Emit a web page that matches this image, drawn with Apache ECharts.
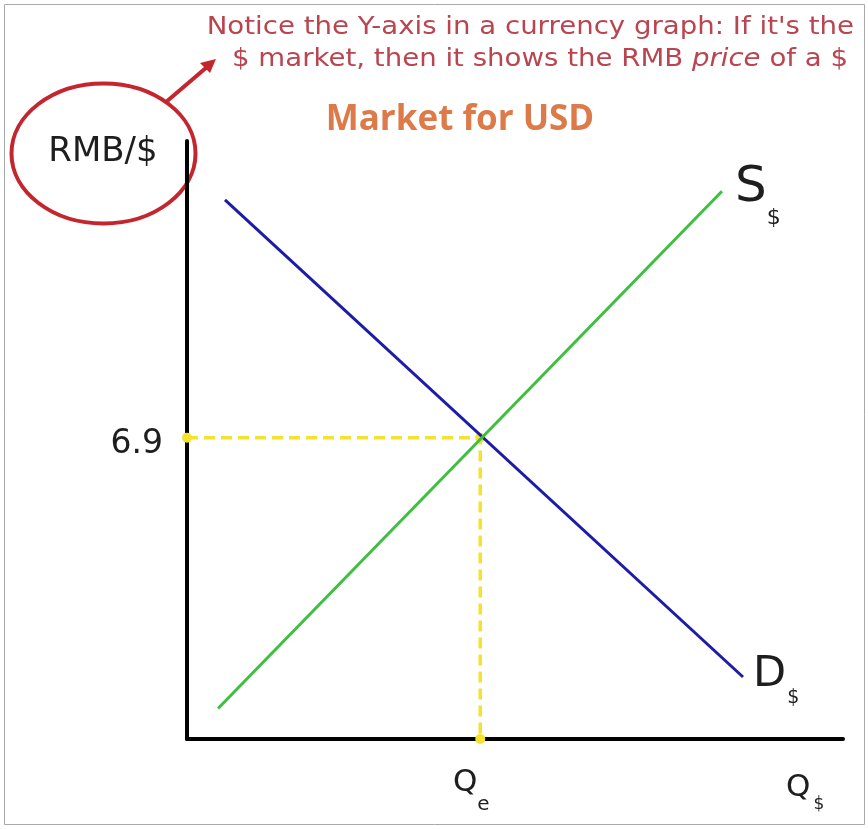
<!DOCTYPE html>
<html>
<head>
<meta charset="utf-8">
<script src="https://cdn.jsdelivr.net/npm/echarts@6/dist/echarts.min.js"></script>
<style>
  html, body { margin: 0; padding: 0; background: #fff; }
  #chart { width: 868px; height: 829px; }
</style>
</head>
<body>
<div id="chart"></div>
<script>
// Supply and demand for US dollars, priced in RMB
const priceEq = 6.9;          // equilibrium RMB price of one dollar
const qtyEq = 44.7;           // equilibrium quantity Qe
const supplyX = [4.73, 81.55];
const supplyY = [0.7, 12.55];
const demandX = [5.79, 84.76];
const demandY = [12.35, 1.42];
const priceTickLabel = '6.9';
const qtyTickLabel = 'Q';

const font = '"DejaVu Sans", "Open Sans", sans-serif';
const ink = '#1e1e1e';
const red = '#c4262e';
const noteRed = '#b8454f';

const chart = echarts.init(document.getElementById('chart'));

const supplyData = supplyX.map((x, i) => [x, supplyY[i]]);
const demandData = demandX.map((x, i) => [x, demandY[i]]);

// main letter sits at the top of the line box, subscript drops to its bottom
function subRich(mainSize, subSize, drop, gap) {
  return {
    m: { fontSize: mainSize, fontFamily: font, color: ink, verticalAlign: 'top', padding: [0, 0, drop, 0] },
    s: { fontSize: subSize, fontFamily: font, color: ink, verticalAlign: 'bottom', padding: [0, 0, 0, gap || 0] }
  };
}

const guideData = [
  { value: [0, priceEq], label: { show: true, position: 'left', distance: 19, offset: [0, 7],
      formatter: priceTickLabel, fontSize: 33, fontFamily: font, color: ink } },
  { value: [qtyEq, priceEq] },
  { value: [qtyEq, 0], label: { show: true, position: 'bottom', distance: 23, offset: [-9, 0],
      formatter: '{m|' + qtyTickLabel + '}{s|e}', rich: subRich(31, 20, 16.5) } }
];

chart.setOption({
  animation: false,
  backgroundColor: '#fff',
  grid: { left: 187, top: 141, right: 25, bottom: 90, containLabel: false },
  xAxis: {
    type: 'value', min: 0, max: 100,
    axisLine: { show: true, onZero: false, lineStyle: { color: '#000', width: 4 } },
    axisTick: { show: false }, axisLabel: { show: false }, splitLine: { show: false }
  },
  yAxis: {
    type: 'value', min: 0, max: 13.7,
    axisLine: { show: true, onZero: false, lineStyle: { color: '#000', width: 4 } },
    axisTick: { show: false }, axisLabel: { show: false }, splitLine: { show: false }
  },
  series: [
    {
      name: 'Guide', type: 'line', data: guideData, z: 1,
      lineStyle: { color: '#f4e22e', width: 3.5, type: [11, 6] },
      symbol: 'circle', symbolSize: 10,
      itemStyle: { color: '#f4e22e' },
      label: { show: false }
    },
    {
      name: 'Demand', type: 'line', data: demandData, z: 3,
      lineStyle: { color: '#1c1ca6', width: 3 }, symbol: 'none',
      endLabel: {
        show: true, formatter: () => '{m|D}{s|$}', distance: 10, offset: [0, 3.5],
        rich: subRich(43, 19, 12, 1)
      }
    },
    {
      name: 'Supply', type: 'line', data: supplyData, z: 3,
      lineStyle: { color: '#3fbf3f', width: 3 }, symbol: 'none',
      endLabel: {
        show: true, formatter: () => '{m|S}{s|$}', distance: 13, offset: [0, 5],
        rich: subRich(50, 22, 16)
      }
    }
  ],
  graphic: [
    { type: 'rect', shape: { x: 4.5, y: 4.5, width: 860, height: 820 }, style: { fill: 'none', stroke: '#a8a8a8', lineWidth: 1 }, silent: true },
    { type: 'text', x: 854, y: 16, scaleX: 1.15, style: { text: "Notice the Y-axis in a currency graph: If it's the", font: '24px ' + font, fill: noteRed, align: 'right' } },
    { type: 'text', x: 848, y: 48, scaleX: 1.15, style: {
        text: '{a|$ market, then it shows the RMB }{i|price}{a| of a $}',
        align: 'right',
        rich: { a: { fontSize: 24, fontFamily: font, fill: noteRed },
                i: { fontSize: 24, fontFamily: font, fontStyle: 'italic', fill: noteRed } } } },
    { type: 'text', x: 460, y: 103, style: { text: 'Market for USD', font: 'bold 35px "Open Sans", sans-serif', fill: '#dd7a4a', align: 'center' } },
    { type: 'ellipse', shape: { cx: 103.5, cy: 153.5, rx: 92, ry: 70 }, style: { fill: 'none', stroke: red, lineWidth: 4 } },
    { type: 'line', shape: { x1: 166, y1: 102, x2: 207, y2: 67 }, style: { stroke: red, lineWidth: 4 } },
    { type: 'polygon', shape: { points: [[216, 59], [200, 63], [210, 73]] }, style: { fill: red } },
    { type: 'text', x: 103, y: 152, style: { text: 'RMB/$', font: '34px ' + font, fill: ink, align: 'center', verticalAlign: 'middle' } },
    { type: 'text', x: 786, y: 772, style: {
        text: '{m|Q}{s|$}',
        rich: {
          m: { fontSize: 31, fontFamily: font, fill: ink, verticalAlign: 'top', padding: [0, 0, 10.5, 0] },
          s: { fontSize: 17, fontFamily: font, fill: ink, verticalAlign: 'bottom', padding: [0, 0, 0, 3] }
        } } }
  ]
});
</script>
</body>
</html>
